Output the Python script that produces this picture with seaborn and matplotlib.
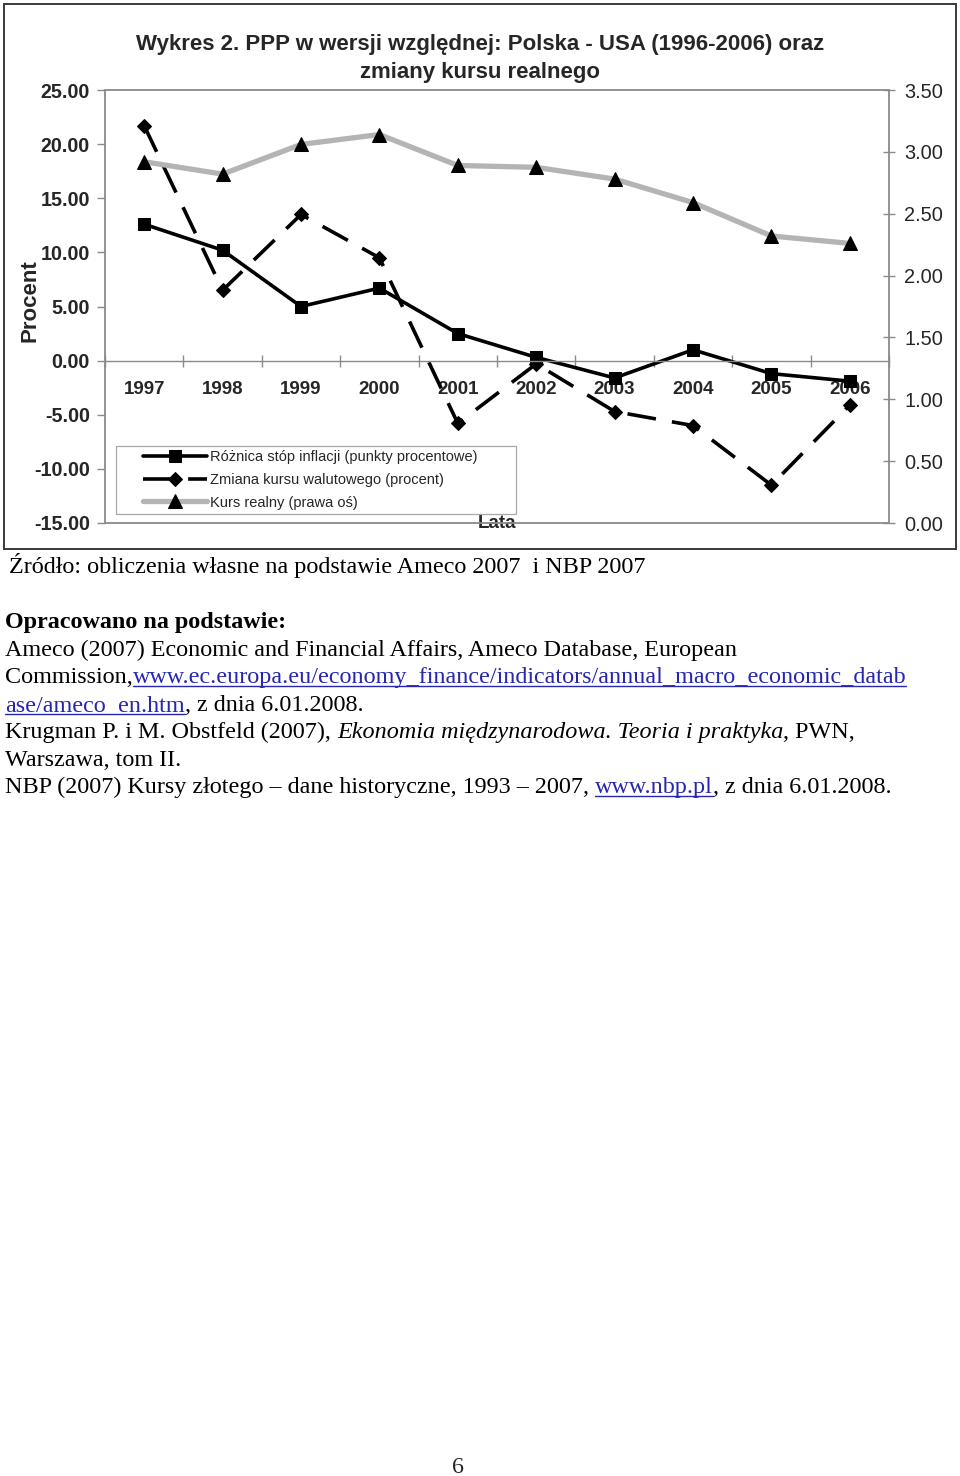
import numpy as np
import pandas as pd
import matplotlib
matplotlib.use("Agg")
import matplotlib.pyplot as plt
import seaborn as sns
from matplotlib.lines import Line2D
from matplotlib.patches import Rectangle
from matplotlib.ticker import FixedLocator

# ---------------- data ----------------
lata = ["1997", "1998", "1999", "2000", "2001", "2002", "2003", "2004", "2005", "2006"]
roznica_inflacji = [12.6, 10.2, 5.0, 6.7, 2.5, 0.3, -1.6, 1.0, -1.2, -1.9]
zmiana_kursu = [21.7, 6.5, 13.5, 9.5, -5.8, -0.3, -4.7, -6.0, -11.5, -4.1]
kurs_realny = [2.92, 2.82, 3.06, 3.14, 2.89, 2.875, 2.78, 2.59, 2.32, 2.26]

lewa_os_ticks = [-15, -10, -5, 0, 5, 10, 15, 20, 25]
prawa_os_ticks = [0.0, 0.5, 1.0, 1.5, 2.0, 2.5, 3.0, 3.5]

etykiety = ["Różnica stóp inflacji (punkty procentowe)",
            "Zmiana kursu walutowego (procent)",
            "Kurs realny (prawa oś)"]

tytul = "Wykres 2. PPP w wersji względnej: Polska - USA (1996-2006) oraz\nzmiany kursu realnego"

df = pd.DataFrame({"rok": lata, "inflacja": roznica_inflacji,
                   "kurs": zmiana_kursu, "realny": kurs_realny})

# ---------------- style ----------------
sns.set_style("white")
plt.rcParams["font.family"] = ["Liberation Sans", "DejaVu Sans"]

W, H = 960, 1476
fig = plt.figure(figsize=(W / 100, H / 100), dpi=100)
fig.patch.set_facecolor("white")


def fx(x):
    return x / W


def fy(y):
    return 1 - y / H


GREY = "#8a8a8a"

ax = fig.add_axes([fx(105), fy(523), 784 / W, 433 / H])
ax2 = ax.twinx()

sns.lineplot(data=df, x="rok", y="inflacja", ax=ax, color="black", lw=2.6,
             marker="s", markersize=9, markeredgecolor="black",
             markerfacecolor="black", label=etykiety[0], sort=False)
sns.lineplot(data=df, x="rok", y="kurs", ax=ax, color="black", lw=2.6,
             linestyle=(0, (8, 4.5)), marker="D", markersize=7,
             markeredgecolor="black", markerfacecolor="black",
             label=etykiety[1], sort=False)
sns.lineplot(data=df, x="rok", y="realny", ax=ax2, color="#b4b4b4", lw=3.8,
             marker="^", markersize=10.5, markeredgecolor="black",
             markerfacecolor="black", label=etykiety[2], sort=False)

ax.set_xlim(-0.5, 9.5)
ax.set_ylim(-15, 25)
ax2.set_ylim(0, 3.5)

# spines first (moving a spine resets the ticks)
ax.spines["bottom"].set_position(("data", 0))
ax.spines["bottom"].set_color(GREY)
ax.spines["bottom"].set_linewidth(1)
for s in ["left", "right", "top"]:
    ax.spines[s].set_visible(False)
for s in ax2.spines.values():
    s.set_visible(False)
ax.add_patch(Rectangle((0, 0), 1, 1, transform=ax.transAxes, fill=False,
                       edgecolor=GREY, lw=1.3, clip_on=False, zorder=3))

# left axis
ax.set_yticks(lewa_os_ticks)
ax.set_yticklabels([f"{v:.2f}" for v in lewa_os_ticks], fontsize=14.2,
                   fontweight="bold")
ax.tick_params(axis="y", which="major", left=True, direction="out", length=6,
               width=1, color=GREY, pad=5)
ax.set_ylabel("")

# x axis at zero
ax.set_xticks(range(len(lata)))
ax.xaxis.set_minor_locator(FixedLocator(np.arange(-0.5, len(lata), 1.0)))
ax.tick_params(axis="x", which="major", bottom=True, length=0, pad=15)
ax.tick_params(axis="x", which="minor", bottom=True, direction="inout",
               length=9, width=1, color=GREY)
ax.set_xticklabels(lata, fontsize=13.5, fontweight="bold")

ax.set_xlabel("Lata", fontsize=13.5, fontweight="bold")
ax.xaxis.set_label_coords(0.5, 0.0)
ax.xaxis.label.set_va("center")

# right axis
ax2.set_yticks(prawa_os_ticks)
ax2.tick_params(axis="y", right=True, direction="inout", length=8, width=1,
                color=GREY, pad=7)
ax2.set_yticklabels([f"{v:.2f}" for v in prawa_os_ticks], fontsize=14.4)
ax2.set_ylabel("")

# legend
h1, l1 = ax.get_legend_handles_labels()
h2, l2 = ax2.get_legend_handles_labels()
if ax.get_legend() is not None:
    ax.get_legend().remove()
if ax2.get_legend() is not None:
    ax2.get_legend().remove()
ax2.add_patch(Rectangle((fx(116), fy(514)), 400 / W, 68 / H,
                        transform=fig.transFigure, facecolor="white",
                        edgecolor="#a8a8a8", lw=0.9, clip_on=False, zorder=4))
leg = ax2.legend(h1 + h2, l1 + l2, loc="upper left",
                 bbox_to_anchor=(fx(143), fy(450)),
                 bbox_transform=fig.transFigure, frameon=False,
                 fontsize=10.5, handlelength=4.4, handletextpad=0.2,
                 borderpad=0, borderaxespad=0, labelspacing=0.6)
leg.set_zorder(5)

# titles / labels
fig.text(fx(480), fy(58.5), tytul, ha="center", va="center", fontsize=16,
         fontweight="bold", linespacing=1.4)
fig.text(fx(30), fy(301), "Procent", rotation=90, ha="center", va="center",
         fontsize=16, fontweight="bold")

# outer chart border
fig.patches.append(Rectangle((fx(4), fy(549)), 952 / W, 545 / H,
                             transform=fig.transFigure, fill=False,
                             edgecolor="#3a3a3a", lw=1.4))

# ---------------- text below ----------------
SERIF = ["Liberation Serif", "DejaVu Serif"]
FS = 17.35
LINK = "#2626b0"
renderer = fig.canvas.get_renderer()


def text_width(s, **kw):
    t = fig.text(0, 0, s + "|", **kw)
    w1 = t.get_window_extent(renderer).width
    t.remove()
    t = fig.text(0, 0, "|", **kw)
    w2 = t.get_window_extent(renderer).width
    t.remove()
    return w1 - w2


def write_runs(x, yb, runs):
    for s, style in runs:
        kw = dict(family=SERIF, fontsize=FS)
        if "b" in style:
            kw["fontweight"] = "bold"
        if "i" in style:
            kw["fontstyle"] = "italic"
        color = LINK if "l" in style else "black"
        fig.text(fx(x), fy(yb), s, ha="left", va="baseline", color=color, **kw)
        w = text_width(s, **kw)
        if "l" in style:
            wl = text_width(s.rstrip(), **kw)
            fig.add_artist(Line2D([fx(x), fx(x + wl)], [fy(yb + 3)] * 2,
                                  color=LINK, lw=1.0))
        x += w


write_runs(9, 573, [("Źródło: obliczenia własne na podstawie Ameco 2007  i NBP 2007", "")])
write_runs(5, 628, [("Opracowano na podstawie:", "b")])
write_runs(5, 656, [("Ameco (2007) Economic and Financial Affairs, Ameco Database, European", "")])
write_runs(5, 683, [("Commission,", ""),
                    ("www.ec.europa.eu/economy_finance/indicators/annual_macro_economic_datab", "l")])
write_runs(5, 711, [("ase/ameco_en.htm", "l"), (", z dnia 6.01.2008.", "")])
write_runs(5, 738, [("Krugman P. i M. Obstfeld (2007), ", ""),
                    ("Ekonomia międzynarodowa. Teoria i praktyka", "i"),
                    (", PWN,", "")])
write_runs(5, 766, [("Warszawa, tom II.", "")])
write_runs(5, 793, [("NBP (2007) Kursy złotego – dane historyczne, 1993 – 2007, ", ""),
                    ("www.nbp.pl", "l"), (", z dnia 6.01.2008.", "")])
fig.text(fx(458), fy(1473), "6", family=SERIF, fontsize=FS, ha="center",
         va="baseline")

fig.savefig("out.png", dpi=100)
